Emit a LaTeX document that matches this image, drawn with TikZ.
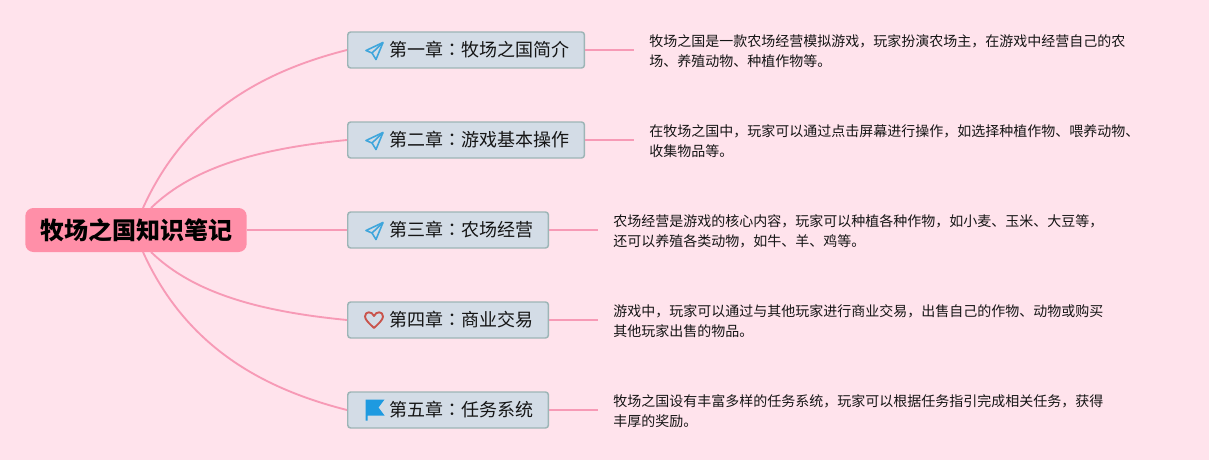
\documentclass[tikz,border=0pt]{standalone}
\usepackage{fontspec}
\setmainfont{Noto Sans CJK SC}
\newfontfamily\cjktc{Noto Sans CJK TC}
\newcommand{\zhcolon}{{\cjktc ：}}
\definecolor{bgpink}{HTML}{FFE3EC}
\definecolor{rootpink}{HTML}{FF8FA8}
\definecolor{linkpink}{HTML}{F79AB6}
\definecolor{boxfill}{HTML}{D3DCE6}
\definecolor{boxline}{HTML}{9DB5B6}
\definecolor{inktext}{HTML}{151515}
\definecolor{planeblue}{HTML}{3FA6DC}
\definecolor{heartred}{HTML}{C9544C}
\definecolor{flagblue}{HTML}{1E9AE0}
\tikzset{
  x=0.75pt,y=-0.75pt,
  rootbox/.style={draw=none,fill=rootpink,rounded corners=6pt,minimum height=33pt,minimum width=166pt,inner sep=0pt,font=\fontsize{18}{22}\selectfont\bfseries,text=black},
  chapter/.style={anchor=west,draw=boxline,line width=1.1pt,fill=boxfill,rounded corners=2.2pt,minimum height=27pt,inner xsep=11pt,inner ysep=0pt,font=\fontsize{13.5}{16}\selectfont,text=inktext},
  detail/.style={anchor=west,align=left,inner xsep=11.25pt,inner ysep=0pt,font=\fontsize{10.5}{15}\selectfont,text=inktext},
  link/.style={draw=linkpink,line width=1.4pt},
  plane/.pic={
    \draw[planeblue,line width=1.2pt,line join=round] (9,-8) -- (-8,0) -- (-2,2.5) -- (2,9) -- cycle;
    \draw[planeblue,line width=1.2pt,line join=round] (9,-8) -- (-2,2.5);
  },
  heart/.pic={
    \draw[heartred,line width=1.4pt,line join=round] (0,8) .. controls (-4,4) and (-9,0) .. (-9,-3.5) .. controls (-9,-9) and (-2,-9) .. (0,-4) .. controls (2,-9) and (9,-9) .. (9,-3.5) .. controls (9,0) and (4,4) .. cycle;
  },
  flagicon/.pic={
    \fill[flagblue] (-9,-10) -- (10,-10) -- (4,-2) -- (10,6) -- (-7,6) -- (-7,11) -- (-9,11) -- cycle;
  }
}
\newcommand{\gap}{\hspace*{20.5pt}}
\begin{document}
\begin{tikzpicture}
\useasboundingbox[fill=bgpink] (0,0) rectangle (1209,460);
\node[rootbox] (root) at (136,230) {牧场之国知识笔记};
\node[chapter] (b1) at (347,50) {\gap 第一章\zhcolon 牧场之国简介};
\node[chapter] (b2) at (347,140) {\gap 第二章\zhcolon 游戏基本操作};
\node[chapter] (b3) at (347,230) {\gap 第三章\zhcolon 农场经营};
\node[chapter] (b4) at (347,320) {\gap 第四章\zhcolon 商业交易};
\node[chapter] (b5) at (347,410) {\gap 第五章\zhcolon 任务系统};
\node[detail] (d1) at (634,51) {牧场之国是一款农场经营模拟游戏，玩家扮演农场主，在游戏中经营自己的农\\场、养殖动物、种植作物等。};
\node[detail] (d2) at (634,141) {在牧场之国中，玩家可以通过点击屏幕进行操作，如选择种植作物、喂养动物、\\收集物品等。};
\node[detail] (d3) at (598,231) {农场经营是游戏的核心内容，玩家可以种植各种作物，如小麦、玉米、大豆等，\\还可以养殖各类动物，如牛、羊、鸡等。};
\node[detail] (d4) at (598,321) {游戏中，玩家可以通过与其他玩家进行商业交易，出售自己的作物、动物或购买\\其他玩家出售的物品。};
\node[detail] (d5) at (598,411) {牧场之国设有丰富多样的任务系统，玩家可以根据任务指引完成相关任务，获得\\丰厚的奖励。};
\coordinate (r1) at (143,208);
\coordinate (r2) at (151,208);
\coordinate (r4) at (151,252);
\coordinate (r5) at (143,252);
\draw[link] (r1) .. controls (185,115) and (260,72) .. (b1.west);
\draw[link] (r2) .. controls (195,165) and (265,148) .. (b2.west);
\draw[link] (root.east) -- (b3.west);
\draw[link] (r4) .. controls (195,295) and (265,312) .. (b4.west);
\draw[link] (r5) .. controls (185,345) and (260,388) .. (b5.west);
\draw[link] (b1.east) -- (d1.west |- b1.east);
\draw[link] (b2.east) -- (d2.west |- b2.east);
\draw[link] (b3.east) -- (d3.west |- b3.east);
\draw[link] (b4.east) -- (d4.west |- b4.east);
\draw[link] (b5.east) -- (d5.west |- b5.east);
\pic at (374,50.5) {plane};
\pic at (374,140.5) {plane};
\pic at (374,230.5) {plane};
\pic at (374,320) {heart};
\pic at (374.5,409.5) {flagicon};
\end{tikzpicture}
\end{document}
